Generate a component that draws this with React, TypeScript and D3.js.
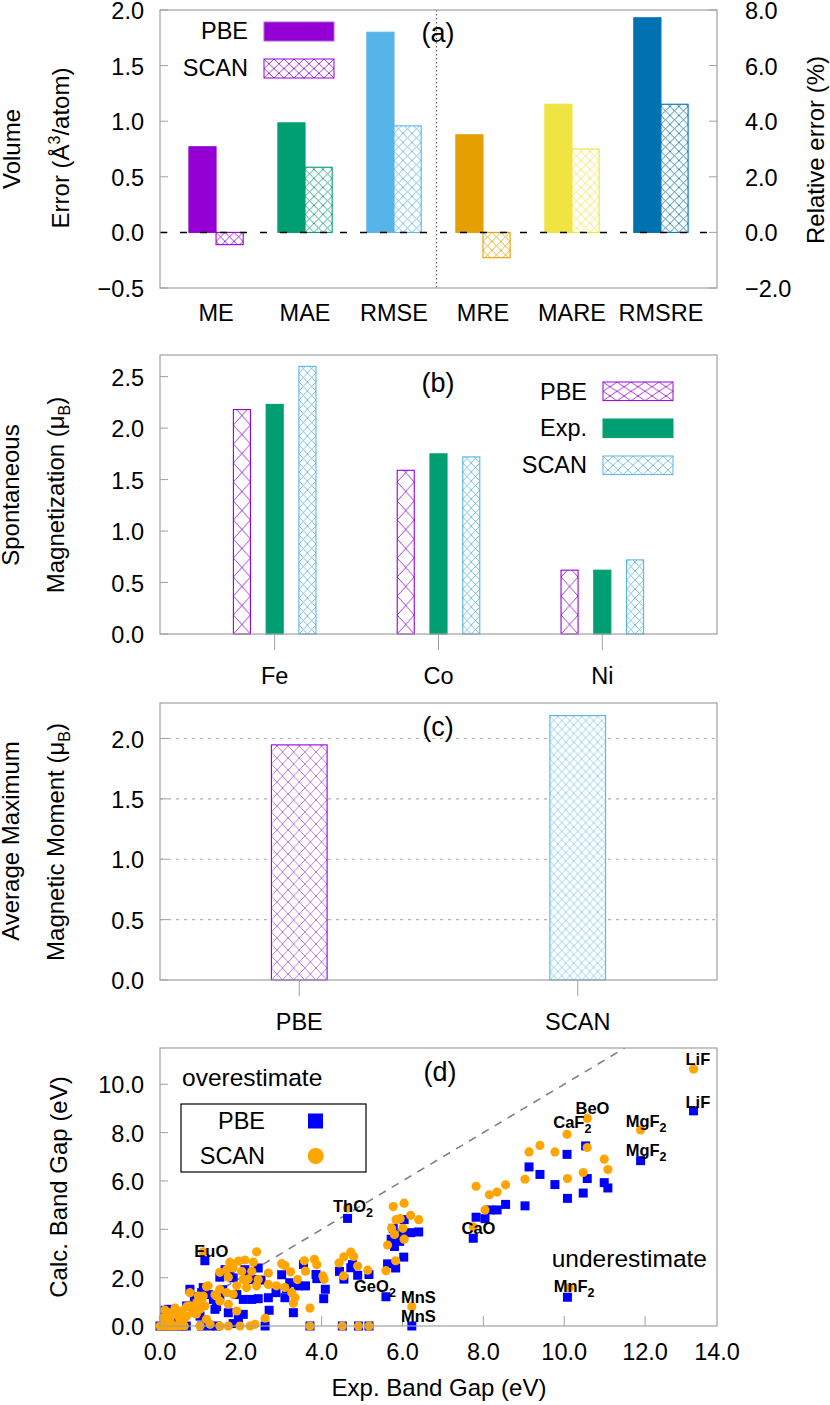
import React from 'react';
import * as d3 from 'd3';

// ---- panel (a): volume errors
const volumeMetrics = ['ME', 'MAE', 'RMSE', 'MRE', 'MARE', 'RMSRE'];
const volumePBE = [0.77, 0.985, 1.8, 3.51, 4.61, 7.72];
const volumeSCAN = [-0.11, 0.586, 0.958, -0.91, 3.0, 4.61];
const volumeRelative = [false, false, false, true, true, true];
const volumeTicks = [-0.5, 0, 0.5, 1, 1.5, 2];
const relativeTicks = [-2, 0, 2, 4, 6, 8];

// ---- panel (b): spontaneous magnetization
const elements = ['Fe', 'Co', 'Ni'];
const magPBE = [2.18, 1.59, 0.62];
const magExp = [2.23, 1.75, 0.62];
const magSCAN = [2.6, 1.72, 0.72];
const magTicks = [0, 0.5, 1, 1.5, 2, 2.5];

// ---- panel (c): average maximum moment
const functionals = ['PBE', 'SCAN'];
const avgMoment = [1.947, 2.19];
const momentTicks = [0, 0.5, 1, 1.5, 2];

// ---- panel (d): band gaps [exp, calc]
const gapTicksX = [0, 2, 4, 6, 8, 10, 12, 14];
const gapTicksY = [0, 2, 4, 6, 8, 10];
const pbeGaps: [number, number][] = [
  [0, 0], [0.1, 0], [0.2, 0], [0.3, 0], [0.45, 0], [0.55, 0], [0.65, 0],
  [0.12, 0.65], [0.21, 0.69], [0.33, 0.28], [0.4, 0.45], [0.53, 0.34], [0.66, 0.83], [0.74, 1.52],
  [0.82, 0.83], [0.85, 1.2], [0.9, 1.0], [0.99, 0.41], [1.03, 1.38], [1.07, 1.59], [1.03, 0], [1.24, 0],
  [1.2, 1.3], [1.32, 1.1], [1.36, 0.69], [1.4, 0.8], [1.4, 0], [1.48, 2.02], [1.48, 1.24], [1.55, 1.5],
  [1.61, 2.33], [1.69, 0.55], [1.73, 2.19], [1.81, 1.99], [1.81, 0.1], [1.9, 1.3], [1.94, 0.28],
  [2.06, 0.48], [2.06, 1.1], [2.1, 2.33], [2.2, 2.1], [2.27, 1.1], [2.31, 1.92], [2.43, 2.4],
  [2.43, 1.13], [2.5, 1.9], [2.6, 0], [2.68, 1.17], [2.7, 0.65], [2.87, 1.38], [3.01, 2.12],
  [3.09, 1.17], [3.13, 1.55], [3.21, 1.79], [3.3, 0.55], [3.42, 1.66], [1.11, 2.7],
  [3.55, 2.55], [3.6, 1.66], [3.86, 2.13], [3.88, 1.96], [4.09, 1.52], [4.05, 1.13], [3.71, 0],
  [4.51, 0], [4.91, 0], [5.17, 0], [4.44, 2.26], [4.55, 1.94], [4.72, 2.41], [4.76, 2.54],
  [4.89, 2.1], [5.17, 2.13], [5.59, 1.21], [5.63, 2.57], [5.83, 2.4], [6.03, 2.85], [5.72, 3.59],
  [5.8, 3.29], [5.93, 3.5], [5.77, 4.04], [6.04, 4.4], [6.01, 3.86], [6.2, 3.86], [6.4, 3.89],
  [6.23, 0], [4.64, 4.45], [7.75, 3.63], [7.82, 4.5], [8.04, 4.44], [8.17, 4.8], [8.34, 4.8],
  [8.55, 5.03], [9.03, 4.97], [9.13, 6.58], [9.4, 6.27], [9.77, 5.85], [10.07, 7.1], [10.08, 5.28],
  [10.47, 5.5], [10.53, 7.45], [10.57, 6.1], [10.99, 5.93], [11.08, 5.71], [11.89, 6.84],
  [13.2, 8.9], [10.08, 1.19],
];
const scanGaps: [number, number][] = [
  [0, 0], [0.05, 0], [0.1, 0], [0.15, 0], [0.2, 0], [0.25, 0], [0.3, 0], [0.35, 0], [0.4, 0],
  [0.5, 0], [0.6, 0], [0.99, 0], [1.24, 0.07], [1.48, 0], [1.69, 0], [1.98, 0], [2.23, 0], [2.35, 0.07],
  [0.08, 0.34], [0.12, 0.66], [0.21, 0.55], [0.25, 0.2], [0.3, 0.45], [0.37, 0.74], [0.45, 0.5],
  [0.49, 0.28], [0.54, 0.62], [0.6, 0.3], [0.66, 0.41], [0.66, 0.8], [0.74, 0.83], [0.74, 1.38],
  [0.8, 0.7], [0.82, 0.55], [0.9, 0.5], [0.91, 0.97], [0.95, 1.24], [0.99, 0.69], [1.03, 1.1],
  [1.07, 1.24], [1.11, 0.83], [1.15, 0.28], [1.15, 1.63], [1.19, 1.66], [1.36, 1.29], [1.4, 1.24],
  [1.48, 1.52], [1.48, 2.22], [1.48, 1.03], [1.65, 2.33], [1.65, 1.38], [1.69, 2.02], [1.69, 0.9],
  [1.73, 2.64], [1.81, 2.4], [1.81, 1.31], [1.9, 1.66], [1.9, 0.62], [1.94, 2.68], [2.02, 2.26],
  [2.06, 1.92], [2.1, 2.73], [2.14, 1.59], [2.18, 1.94], [2.27, 2.26], [2.31, 2.64], [2.39, 3.07],
  [2.39, 1.66], [2.43, 1.92], [2.6, 0.32], [2.68, 2.19], [2.68, 1.72], [2.88, 1.66], [3.01, 2.58],
  [3.09, 2.5], [3.09, 1.59], [3.23, 2.24], [3.26, 1.38], [3.3, 0.94], [3.34, 1.17], [3.4, 1.92],
  [1.07, 3.07],
  [3.57, 2.7], [3.82, 2.76], [3.88, 2.53], [3.6, 2.27], [4.03, 2.07], [4.06, 1.93], [3.71, 0.74],
  [3.71, 0], [4.51, 0], [4.91, 0], [5.17, 0], [4.43, 2.61], [4.55, 2.86], [4.72, 3.06], [4.79, 2.88],
  [4.89, 2.48], [4.54, 2.07], [5.14, 2.31], [5.59, 2.29], [5.63, 3.35], [5.73, 4.04], [5.77, 4.94],
  [6.04, 5.08], [5.84, 4.4], [5.94, 4.44], [5.8, 3.79], [6.01, 4.04], [6.04, 3.59], [5.83, 2.7],
  [6.2, 4.58], [6.4, 4.4], [6.23, 0.8], [4.64, 4.88], [7.75, 4.1], [7.82, 5.78], [8.15, 5.43],
  [8.34, 5.54], [8.55, 5.84], [8.04, 4.8], [9.03, 6.07], [9.13, 7.2], [9.4, 7.47], [9.77, 7.2],
  [10.08, 6.1], [10.47, 6.35], [10.57, 7.38], [10.99, 6.9], [11.08, 6.47], [10.07, 7.93],
  [10.57, 8.59], [11.89, 8.11], [13.2, 10.63], [10.12, 1.58],
];
// annotation: name, subscript, x start / y centre in data units
const gapLabels = [
  { name: 'EuO', sub: '', x: 0.85, y: 3.1 },
  { name: 'ThO', sub: '2', x: 4.28, y: 4.98 },
  { name: 'GeO', sub: '2', x: 4.8, y: 1.65 },
  { name: 'MnS', sub: '', x: 5.96, y: 1.19 },
  { name: 'MnS', sub: '', x: 5.96, y: 0.41 },
  { name: 'CaO', sub: '', x: 7.46, y: 4.04 },
  { name: 'CaF', sub: '2', x: 9.73, y: 8.43 },
  { name: 'BeO', sub: '', x: 10.28, y: 9.01 },
  { name: 'MgF', sub: '2', x: 11.52, y: 8.49 },
  { name: 'MgF', sub: '2', x: 11.52, y: 7.28 },
  { name: 'LiF', sub: '', x: 13.0, y: 11.05 },
  { name: 'LiF', sub: '', x: 13.0, y: 9.28 },
  { name: 'MnF', sub: '2', x: 9.74, y: 1.65 },
];

const metricColors = ['#9400D3', '#009E73', '#56B4E9', '#E69F00', '#F0E442', '#0072B2'];
const PURPLE = '#9400D3';
const GREEN = '#009E73';
const SKY = '#56B4E9';
const FONT = "'Liberation Sans', Arial, Helvetica, sans-serif";
const FRAME = '#a0a0a0';
const FL = 160;
const FR = 717;
const FS = 23.5;
const TS = 24;

const fmt = (v: number) => (v < 0 ? '\u2212' : '') + Math.abs(v).toFixed(1);

function Hatch({ id, color, w, h, x = 0, y = 0, sw = 0.8 }: any) {
  return (
    <pattern id={id} patternUnits="userSpaceOnUse" x={x} y={y} width={w} height={h}>
      <rect width={w} height={h} fill="white" />
      <path d={`M0,0L${w},${h}M${w},0L0,${h}`} stroke={color} strokeWidth={sw} fill="none" />
    </pattern>
  );
}

function VTitle({ x, y, children }: any) {
  return (
    <text transform={`translate(${x},${y}) rotate(-90)`} textAnchor="middle" fontSize={TS}>
      {children}
    </text>
  );
}

function Frame({ top, bottom }: any) {
  return <rect x={FL} y={top} width={FR - FL} height={bottom - top} fill="none" stroke={FRAME} strokeWidth={1.2} />;
}

export default function App() {
  // ---------- (a)
  const aTop = 10, aBot = 288;
  const yA = d3.scaleLinear().domain([-0.5, 2]).range([aBot, aTop]);
  const yAr = d3.scaleLinear().domain([-2, 8]).range([aBot, aTop]);
  const xA = d3.scalePoint<string>().domain(volumeMetrics).range([FL, FR]).padding(0.63);
  const bwA = xA.step() * 0.305;
  const dividerX = ((xA('RMSE') as number) + (xA('MRE') as number)) / 2 - 2;

  // ---------- (b)
  const bTop = 355, bBot = 634;
  const yB = d3.scaleLinear().domain([0, 2.71]).range([bBot, bTop]);
  const xB = d3.scalePoint<string>().domain(elements).range([FL, FR]).padding(0.7);
  const bwB = xB.step() * 0.104;
  const offB = xB.step() * 0.2;

  // ---------- (c)
  const cTop = 703, cBot = 980;
  const yC = d3.scaleLinear().domain([0, 2.294]).range([cBot, cTop]);
  const xC = d3.scaleBand<string>().domain(functionals).range([FL, FR]);
  const bwC = xC.bandwidth() * 0.2;

  // ---------- (d)
  const dTop = 1048, dBot = 1326;
  const xD = d3.scaleLinear().domain([0, 13.78]).range([FL, FR]);
  const yD = d3.scaleLinear().domain([0, 11.5]).range([dBot, dTop]);

  const patterns: any[] = [];
  volumeMetrics.forEach((m, i) => {
    const bx = (xA(m) as number);
    patterns.push(<Hatch key={'ha' + i} id={'ha' + i} color={metricColors[i]} w={9} h={9} x={bx} y={yA(0)} />);
  });
  elements.forEach((e, i) => {
    const cx = xB(e) as number;
    patterns.push(<Hatch key={'hbp' + i} id={'hbp' + i} color={PURPLE} w={bwB} h={19} x={cx - offB - bwB / 2} y={bBot} />);
    patterns.push(<Hatch key={'hbs' + i} id={'hbs' + i} color={SKY} w={bwB / 2} h={9} x={cx + offB - bwB / 2} y={bBot} />);
  });
  patterns.push(<Hatch key="hcp" id="hcp" color="#a640dc" w={bwC / 5} h={12} x={(xC('PBE') as number) + xC.bandwidth() / 2 - bwC / 2} y={cBot} sw={0.7} />);
  patterns.push(<Hatch key="hcs" id="hcs" color="#6cc0ee" w={bwC / 7} h={8.5} x={(xC('SCAN') as number) + xC.bandwidth() / 2 - bwC / 2} y={cBot} sw={0.7} />);
  patterns.push(<Hatch key="hla" id="hla" color={PURPLE} w={10} h={9.5} x={264} y={59} />);
  patterns.push(<Hatch key="hlbp" id="hlbp" color={PURPLE} w={14} h={9.3} x={603} y={382} />);
  patterns.push(<Hatch key="hlbs" id="hlbs" color={SKY} w={10} h={9.3} x={603} y={456} />);

  const barRect = (x: number, y0: number, y1: number, w: number, fill: string, stroke: string, key: string) => (
    <rect key={key} x={x} y={Math.min(y0, y1)} width={w} height={Math.abs(y1 - y0)} fill={fill} stroke={stroke} strokeWidth={1.1} />
  );

  return (
    <svg width={830} height={1405} style={{ position: 'absolute', left: 0, top: 0, background: 'white' }} fontFamily={FONT}>
      <defs>
        {patterns}
        <clipPath id="clipD">
          <rect x={FL} y={dTop} width={FR - FL} height={dBot - dTop} />
        </clipPath>
      </defs>
      <rect width={830} height={1405} fill="white" />

      {/* ================= (a) ================= */}
      <g>
        {volumeTicks.map((t) => (
          <g key={'ta' + t}>
            <line x1={FL} x2={FL + 8} y1={yA(t)} y2={yA(t)} stroke={FRAME} />
            <text x={144} y={yA(t) + 1} textAnchor="end" dominantBaseline="central" fontSize={FS}>{fmt(t)}</text>
          </g>
        ))}
        {relativeTicks.map((t) => (
          <g key={'tr' + t}>
            <line x1={FR - 8} x2={FR} y1={yAr(t)} y2={yAr(t)} stroke={FRAME} />
            <text x={745} y={yAr(t) + 1} dominantBaseline="central" fontSize={FS}>{fmt(t)}</text>
          </g>
        ))}
        {volumeMetrics.map((m, i) => {
          const y = volumeRelative[i] ? yAr : yA;
          const cx = xA(m) as number;
          return (
            <g key={'ba' + m}>
              {barRect(cx - bwA, y(0), y(volumePBE[i]), bwA, metricColors[i], metricColors[i], 'p')}
              {barRect(cx, y(0), y(volumeSCAN[i]), bwA, `url(#ha${i})`, metricColors[i], 's')}
              <text x={cx} y={313} textAnchor="middle" dominantBaseline="central" fontSize={FS}>{m}</text>
            </g>
          );
        })}
        <line x1={FL} x2={FR} y1={yA(0)} y2={yA(0)} stroke="#000" strokeWidth={1.5} strokeDasharray="7,13" />
        <line x1={dividerX} x2={dividerX} y1={aTop} y2={aBot} stroke="#666" strokeWidth={1.2} strokeDasharray="1.5,2.5" />
        <Frame top={aTop} bottom={aBot} />
        <text x={438} y={33} textAnchor="middle" dominantBaseline="central" fontSize={27}>(a)</text>
        {/* legend */}
        <text x={248} y={31} textAnchor="end" dominantBaseline="central" fontSize={FS}>PBE</text>
        <rect x={264} y={22} width={70} height={19} fill={PURPLE} stroke="#b060e0" />
        <text x={248} y={68} textAnchor="end" dominantBaseline="central" fontSize={FS}>SCAN</text>
        <rect x={264} y={59} width={70} height={19} fill="url(#hla)" stroke={PURPLE} />
        <VTitle x={20} y={149}>Volume</VTitle>
        <VTitle x={69} y={148}>
          Error (Å<tspan dy={-9} fontSize={16}>3</tspan><tspan dy={9}>/atom)</tspan>
        </VTitle>
        <VTitle x={824} y={150}>Relative error (%)</VTitle>
      </g>

      {/* ================= (b) ================= */}
      <g>
        {magTicks.map((t) => (
          <g key={'tb' + t}>
            <line x1={FL} x2={FL + 8} y1={yB(t)} y2={yB(t)} stroke={FRAME} />
            <text x={144} y={yB(t) + 1} textAnchor="end" dominantBaseline="central" fontSize={FS}>{fmt(t)}</text>
          </g>
        ))}
        {elements.map((e, i) => {
          const cx = xB(e) as number;
          return (
            <g key={'bb' + e}>
              {barRect(cx - offB - bwB / 2, yB(0), yB(magPBE[i]), bwB, `url(#hbp${i})`, PURPLE, 'p')}
              {barRect(cx - bwB / 2, yB(0), yB(magExp[i]), bwB, GREEN, GREEN, 'e')}
              {barRect(cx + offB - bwB / 2, yB(0), yB(magSCAN[i]), bwB, `url(#hbs${i})`, SKY, 's')}
              <line x1={cx} x2={cx} y1={bBot} y2={bBot + 16} stroke={FRAME} />
              <text x={cx} y={676} textAnchor="middle" dominantBaseline="central" fontSize={FS}>{e}</text>
            </g>
          );
        })}
        <Frame top={bTop} bottom={bBot} />
        <text x={438} y={383} textAnchor="middle" dominantBaseline="central" fontSize={27}>(b)</text>
        <text x={587} y={392} textAnchor="end" dominantBaseline="central" fontSize={FS}>PBE</text>
        <rect x={603} y={382} width={70} height={18.6} fill="url(#hlbp)" stroke={PURPLE} />
        <text x={587} y={428} textAnchor="end" dominantBaseline="central" fontSize={FS}>Exp.</text>
        <rect x={603} y={419} width={70} height={18.6} fill={GREEN} stroke={GREEN} />
        <text x={587} y={465} textAnchor="end" dominantBaseline="central" fontSize={FS}>SCAN</text>
        <rect x={603} y={456} width={70} height={18.6} fill="url(#hlbs)" stroke={SKY} />
        <VTitle x={19} y={495}>Spontaneous</VTitle>
        <VTitle x={64} y={495}>
          Magnetization (μ<tspan dy={6} fontSize={16}>B</tspan><tspan dy={-6}>)</tspan>
        </VTitle>
      </g>

      {/* ================= (c) ================= */}
      <g>
        {momentTicks.map((t) => (
          <g key={'tc' + t}>
            {t > 0 && (
              <line x1={FL} x2={FR} y1={yC(t)} y2={yC(t)} stroke="#b0b0b0" strokeWidth={1.2} strokeDasharray="3,5" />
            )}
            <line x1={FL} x2={FL + 8} y1={yC(t)} y2={yC(t)} stroke={FRAME} />
            <text x={144} y={yC(t) + 1} textAnchor="end" dominantBaseline="central" fontSize={FS}>{fmt(t)}</text>
          </g>
        ))}
        {functionals.map((f, i) => {
          const cx = (xC(f) as number) + xC.bandwidth() / 2;
          const col = i === 0 ? PURPLE : SKY;
          return (
            <g key={'bc' + f}>
              {barRect(cx - bwC / 2, yC(0), yC(avgMoment[i]), bwC, i === 0 ? 'url(#hcp)' : 'url(#hcs)', col, 'b')}
              <line x1={cx} x2={cx} y1={cBot} y2={cBot + 16} stroke={FRAME} />
              <text x={cx} y={1022} textAnchor="middle" dominantBaseline="central" fontSize={FS}>{f}</text>
            </g>
          );
        })}
        <Frame top={cTop} bottom={cBot} />
        <text x={438} y={727} textAnchor="middle" dominantBaseline="central" fontSize={27}>(c)</text>
        <VTitle x={19} y={841}>Average Maximum</VTitle>
        <VTitle x={64} y={842}>
          Magnetic Moment (μ<tspan dy={6} fontSize={16}>B</tspan><tspan dy={-6}>)</tspan>
        </VTitle>
      </g>

      {/* ================= (d) ================= */}
      <g>
        {gapTicksY.map((t) => (
          <g key={'tdy' + t}>
            <line x1={FL} x2={FL + 8} y1={yD(t)} y2={yD(t)} stroke={FRAME} />
            <text x={144} y={yD(t) + 1} textAnchor="end" dominantBaseline="central" fontSize={FS}>{fmt(t)}</text>
          </g>
        ))}
        {gapTicksX.map((t) => (
          <g key={'tdx' + t}>
            {xD(t) < FR - 2 && <line x1={xD(t)} x2={xD(t)} y1={dBot} y2={dBot - 10} stroke={FRAME} />}
            <text x={Math.min(xD(t), FR)} y={1352} textAnchor="middle" dominantBaseline="central" fontSize={FS}>{fmt(t)}</text>
          </g>
        ))}
        <line
          x1={xD(0)} y1={yD(0)} x2={xD(11.5)} y2={yD(11.5)}
          stroke="#808080" strokeWidth={1.6} strokeDasharray="8,7" clipPath="url(#clipD)"
        />
        {pbeGaps.map((p, i) => (
          <rect key={'pg' + i} x={xD(p[0]) - 4.5} y={yD(p[1]) - 4.5} width={9} height={9} fill="#0000FF" />
        ))}
        {scanGaps.map((p, i) => (
          <circle key={'sg' + i} cx={xD(p[0])} cy={yD(p[1])} r={4.6} fill="#FFA500" />
        ))}
        {gapLabels.map((l, i) => (
          <text key={'gl' + i} x={xD(l.x)} y={yD(l.y) + 6} fontSize={16.5} fontWeight="bold">
            {l.name}
            {l.sub && <tspan dy={5} fontSize={12.5}>{l.sub}</tspan>}
          </text>
        ))}
        <Frame top={dTop} bottom={dBot} />
        <text x={440} y={1072} textAnchor="middle" dominantBaseline="central" fontSize={27}>(d)</text>
        <text x={182} y={1077} dominantBaseline="central" fontSize={24.5}>overestimate</text>
        <text x={707} y={1258} textAnchor="end" dominantBaseline="central" fontSize={24.5}>underestimate</text>
        <rect x={181} y={1104} width={185} height={68} fill="white" stroke="#000" strokeWidth={1.2} />
        <text x={265} y={1121} textAnchor="end" dominantBaseline="central" fontSize={FS}>PBE</text>
        <rect x={308} y={1113.5} width={15} height={15} fill="#0000FF" />
        <text x={265} y={1156} textAnchor="end" dominantBaseline="central" fontSize={FS}>SCAN</text>
        <circle cx={315.7} cy={1156} r={8} fill="#FFA500" />
        <text x={439} y={1387} textAnchor="middle" dominantBaseline="central" fontSize={TS}>Exp. Band Gap (eV)</text>
        <VTitle x={67} y={1187}>Calc. Band Gap (eV)</VTitle>
      </g>
    </svg>
  );
}
